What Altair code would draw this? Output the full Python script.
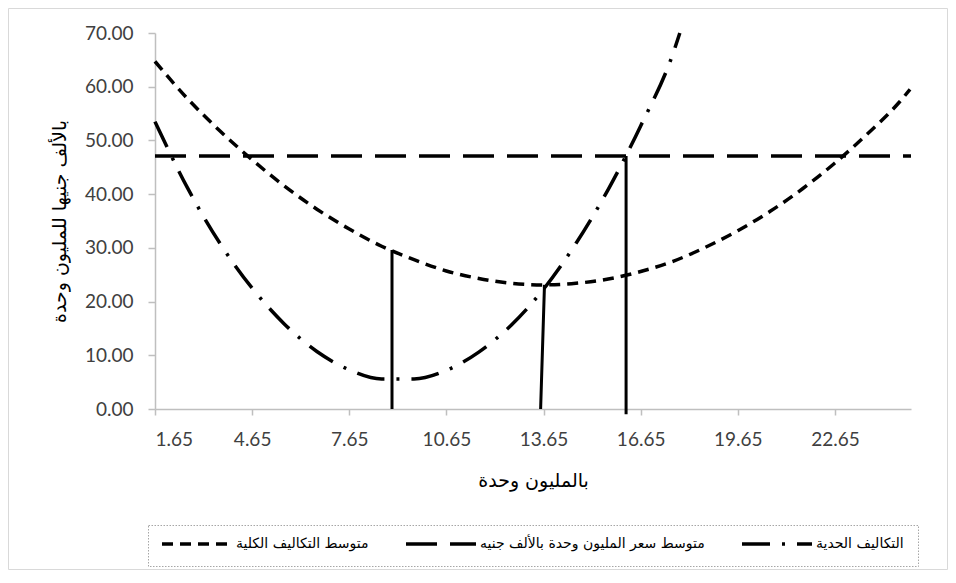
import altair as alt
import pandas as pd

# series names
s_ac = "متوسط التكاليف الكلية"
s_price = "متوسط سعر المليون وحدة بالألف جنيه"
s_mc = "التكاليف الحدية"

# average total cost curve
ac_x = [1.65, 2.65, 3.65, 4.65, 5.65, 6.65, 7.65, 8.65, 9.65, 10.65, 11.65, 12.65,
        13.65, 14.65, 15.65, 16.65, 17.65, 18.65, 19.65, 20.65, 21.65, 22.65, 23.65,
        24.65, 24.97]
ac_y = [64.7, 57.8, 51.8, 46.4, 41.5, 37.2, 33.5, 30.3, 27.8, 25.7, 24.3, 23.4,
        23.1, 23.4, 24.2, 25.6, 27.5, 30.1, 33.2, 36.8, 41.0, 45.8, 51.2,
        57.2, 59.5]

# marginal cost curve
mc_x = [1.65, 2.65, 3.65, 4.65, 5.65, 6.65, 7.65, 8.65, 9.65, 10.65, 11.65, 12.65,
        13.65, 14.65, 15.65, 16.65, 17.65, 17.86]
mc_y = [53.5, 41.2, 30.9, 22.5, 15.8, 10.7, 7.3, 5.6, 5.6, 7.2, 10.6, 15.6,
        22.3, 30.8, 40.9, 52.7, 66.2, 70.0]

# price line
price_x = [1.65, 25.0]
price_y = [47.1, 47.1]

# vertical drop lines
drop_x = [8.97, 13.56, 16.20]
drop_x2 = [8.97, 13.68, 16.20]
drop_y = [0.0, 0.0, -1.0]
drop_y2 = [29.6, 23.1, 47.1]

x_ticks = [1.65, 4.65, 7.65, 10.65, 13.65, 16.65, 19.65, 22.65]
y_ticks = [0, 10, 20, 30, 40, 50, 60, 70]

series_order = [s_ac, s_price, s_mc]
dash_styles = [[11, 7], [31, 13], [28, 12, 3, 12]]

df_lines = pd.concat([
    pd.DataFrame({"x": ac_x, "y": ac_y, "s": s_ac}),
    pd.DataFrame({"x": price_x, "y": price_y, "s": s_price}),
    pd.DataFrame({"x": mc_x, "y": mc_y, "s": s_mc}),
], ignore_index=True)

df_drop = pd.DataFrame({"x": drop_x, "x2": drop_x2, "y": drop_y, "y2": drop_y2})

x_scale = alt.Scale(domain=[1.65, 25.0], nice=False, zero=False)
y_scale = alt.Scale(domain=[0, 70], nice=False)

x_axis = alt.Axis(values=x_ticks, format=".2f", title="بالمليون وحدة", grid=False,
                  tickSize=6, labelPadding=15, titleY=71, titleBaseline="middle")
y_axis = alt.Axis(values=y_ticks, format=".2f", title="بالألف جنيها للمليون وحدة",
                  grid=False, tickSize=7, labelPadding=15,
                  titleX=-96, titleY=188, titleAngle=-90, titleAlign="center",
                  titleBaseline="middle")

legend = alt.Legend(title=None, orient="none", direction="horizontal",
                    legendX=-7, legendY=492)

lines = alt.Chart(df_lines).mark_line(color="black", strokeWidth=3.5, interpolate="monotone").encode(
    x=alt.X("x:Q", scale=x_scale, axis=x_axis),
    y=alt.Y("y:Q", scale=y_scale, axis=y_axis),
    strokeDash=alt.StrokeDash("s:N", scale=alt.Scale(domain=series_order, range=dash_styles),
                              legend=legend),
    detail="s:N",
)

drops = alt.Chart(df_drop).mark_rule(color="black", strokeWidth=3).encode(
    x="x:Q", x2="x2:Q", y="y:Q", y2="y2:Q"
)

frame = alt.Chart(pd.DataFrame({"a": [0]})).mark_rect(
    fill="white", fillOpacity=0, stroke="#d9d9d9", strokeWidth=1
).encode(
    x=alt.value(-146.5), x2=alt.value(792.5), y=alt.value(-24.5), y2=alt.value(536.5)
)

legend_box = alt.Chart(pd.DataFrame({"a": [0]})).mark_rect(
    fill="white", fillOpacity=0, stroke="#a6a6a6", strokeWidth=1, strokeDash=[1.5, 1.5]
).encode(
    x=alt.value(-6.5), x2=alt.value(763.5), y=alt.value(492.5), y2=alt.value(533.5)
)

chart = alt.layer(frame, legend_box, lines, drops).properties(
    width=756, height=376,
    autosize=alt.AutoSizeParams(type="none"),
    padding={"left": 147, "top": 25, "right": 37, "bottom": 162},
).configure_view(stroke=None).configure_axis(
    domainColor="#bfbfbf", tickColor="#bfbfbf", domainWidth=1.5, tickWidth=1.5,
    labelColor="#404040", labelFont="Lato", labelFontSize=19,
    titleFont="DejaVu Sans", titleFontSize=19, titleFontWeight="normal", titleColor="black",
).configure_legend(
    symbolType="M-7,0L7,0", symbolSize=100, symbolOffset=30, symbolStrokeWidth=3.5,
    symbolStrokeColor="black",
    labelFont="DejaVu Sans", labelFontSize=14, labelColor="black", labelLimit=500,
    labelOffset=32, columnPadding=30, padding=12,
)

chart.save("out.html", embed_options={"renderer": "svg", "actions": False})
